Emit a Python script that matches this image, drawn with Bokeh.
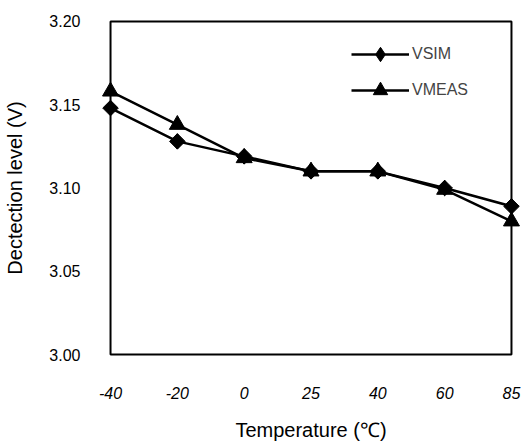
import math
from bokeh.plotting import figure
from bokeh.models import FixedTicker, Legend, LegendItem, Range1d, PrintfTickFormatter
from bokeh.embed import file_html
from bokeh.resources import INLINE

temps = ["-40", "-20", "0", "25", "40", "60", "85"]
vsim = [3.148, 3.128, 3.119, 3.110, 3.110, 3.100, 3.089]
vmeas = [3.158, 3.138, 3.118, 3.110, 3.110, 3.099, 3.080]
y_ticks = [3.00, 3.05, 3.10, 3.15, 3.20]

xs = list(range(len(temps)))
FONT = "Liberation Sans"

p = figure(width=524, height=448, output_backend="svg", toolbar_location=None,
           x_range=Range1d(-0.15, len(temps) - 1 + 0.15),
           y_range=Range1d(y_ticks[0] - 0.003, y_ticks[-1] + 0.003),
           min_border_left=100, min_border_right=3, min_border_top=16, min_border_bottom=89)
p.grid.visible = False
p.outline_line_color = None
p.background_fill_color = "white"
p.border_fill_color = "white"

# plot box
p.quad(left=[xs[0]], right=[xs[-1]], bottom=[y_ticks[0]], top=[y_ticks[-1]],
       fill_alpha=0, line_color="black", line_width=2)

l1 = p.line(xs, vsim, line_color="black", line_width=2.5)
d1 = p.scatter(xs, vsim, marker="diamond", size=15, fill_color="black", line_color="black")
p.scatter(xs, vsim, marker="square", angle=math.pi / 4, size=11,
          fill_color="black", line_color="black")
l2 = p.line(xs, vmeas, line_color="black", line_width=2.5)
m2 = p.scatter(xs, vmeas, marker="triangle", size=16, fill_color="black", line_color="black")

for ax in (p.xaxis[0], p.yaxis[0]):
    ax.axis_line_color = None
    ax.major_tick_line_color = None
    ax.minor_tick_line_color = None
    ax.major_label_text_font = FONT
    ax.major_label_text_font_size = "16px"
    ax.major_label_text_color = "black"
    ax.axis_label_text_font = FONT
    ax.axis_label_text_font_size = "20px"
    ax.axis_label_text_font_style = "normal"
    ax.axis_label_text_color = "black"

p.xaxis.ticker = FixedTicker(ticks=xs)
p.xaxis.major_label_overrides = {i: t for i, t in enumerate(temps)}
p.xaxis.major_label_text_font_style = "italic"
p.xaxis.major_label_standoff = 21
p.xaxis.axis_label = "Temperature (\u2103)"
p.xaxis.axis_label_standoff = 17

p.yaxis.ticker = FixedTicker(ticks=y_ticks)
p.yaxis.formatter = PrintfTickFormatter(format="%.2f")
p.yaxis.major_label_standoff = 14
p.yaxis.axis_label = "Dectection level (V)"
p.yaxis.axis_label_standoff = 20

legend = Legend(items=[LegendItem(label="VSIM", renderers=[l1, d1]),
                       LegendItem(label="VMEAS", renderers=[l2, m2])],
                location=(251, 251), glyph_width=58, glyph_height=36, spacing=0,
                label_standoff=3, padding=0, margin=0,
                border_line_color=None, background_fill_alpha=0,
                label_text_font=FONT, label_text_font_size="16px")
p.add_layout(legend)

open("out.html", "w").write(file_html(p, INLINE))
